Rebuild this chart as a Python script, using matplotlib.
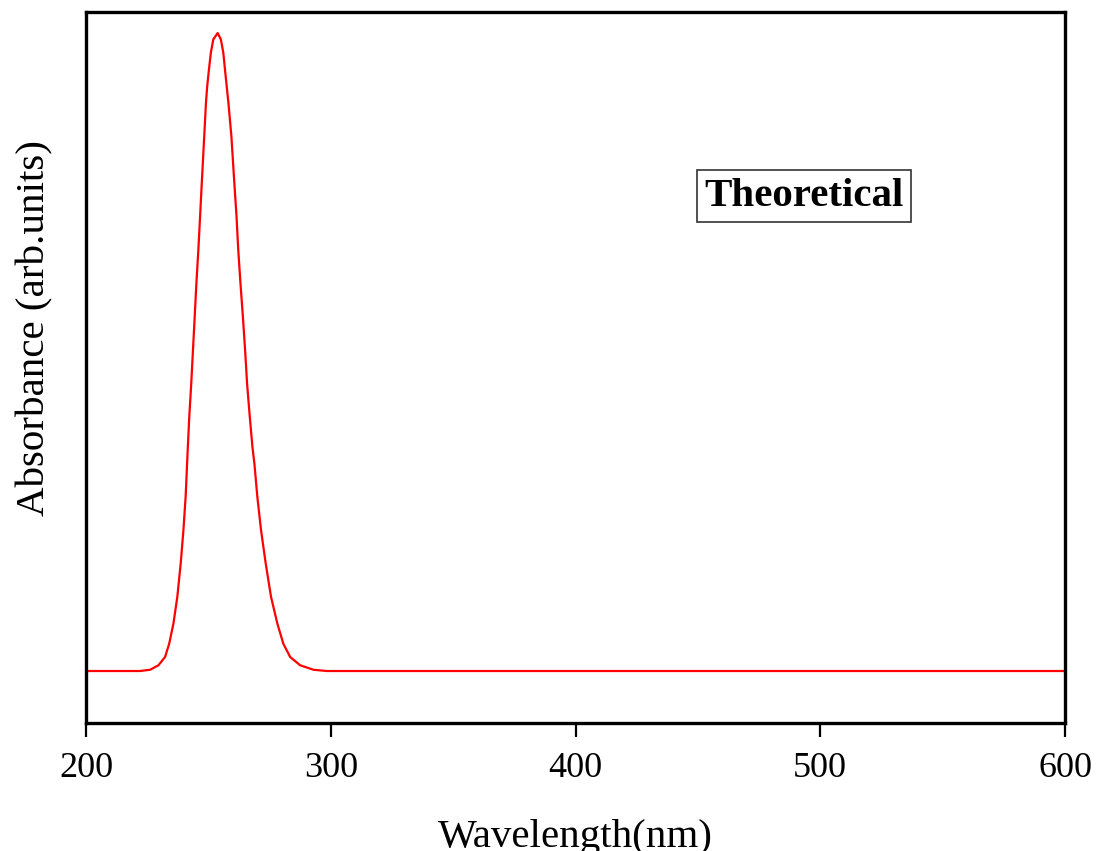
import matplotlib
matplotlib.use('Agg')
import matplotlib.pyplot as plt
import numpy as np

# values (arbitrary units, baseline = 0)
wavelength = [200, 215, 222.1, 226.2, 229.6, 232.3, 234.0, 235.7, 237.3, 238.7,
              239.8, 240.7, 241.6, 242.2, 243.0, 243.7, 244.4, 245.1, 245.9,
              246.6, 247.3, 248.3, 249.0, 249.5, 250.2, 251.0, 252.0, 253.8,
              255.1, 256.1, 256.8, 257.5, 258.2, 259.4, 260.6, 261.5, 262.2,
              263.1, 264.1, 265.0, 265.8, 266.9, 268.0, 268.8, 270.0, 271.5,
              273.4, 275.6, 278.2, 280.6, 283.4, 287.5, 292.9, 298.4, 320, 600]
absorbance = [0, 0, 0, 0.002, 0.009, 0.022, 0.043, 0.074, 0.116, 0.169,
              0.221, 0.273, 0.351, 0.399, 0.451, 0.503, 0.555, 0.608, 0.660,
              0.712, 0.765, 0.838, 0.890, 0.916, 0.942, 0.969, 0.990, 1.000,
              0.990, 0.969, 0.942, 0.916, 0.890, 0.838, 0.765, 0.712, 0.660,
              0.608, 0.555, 0.503, 0.451, 0.399, 0.351, 0.325, 0.273, 0.221,
              0.169, 0.116, 0.074, 0.043, 0.022, 0.009, 0.002, 0, 0, 0]

plt.rcParams['font.family'] = ['Liberation Serif', 'DejaVu Serif']

fig = plt.figure(figsize=(10.97, 8.51), dpi=100)
ax = fig.add_axes([0.0784, 0.1504, 0.8925, 0.8355])

ax.plot(wavelength, absorbance, color='red', linewidth=1.6)

ax.set_xlim(200, 600)
ax.set_ylim(-0.0815, 1.033)
ax.set_xticks([200, 300, 400, 500, 600])
ax.set_yticks([])
ax.tick_params(axis='x', direction='out', length=10, width=1.6, labelsize=26, pad=11)
for s in ax.spines.values():
    s.set_linewidth(2.4)

ax.set_xlabel('Wavelength(nm)', fontsize=29.5, labelpad=24)
ax.set_ylabel('Absorbance (arb.units)', fontsize=29.5)
ax.yaxis.set_label_coords(-0.033, 0.556)

ax.text(0.733, 0.741, 'Theoretical', transform=ax.transAxes, fontsize=29.5,
        fontweight='bold', ha='center', va='center',
        bbox=dict(boxstyle='square,pad=0.18', facecolor='white', edgecolor='#333333', linewidth=1.2))

fig.savefig('out.png', dpi=100)
